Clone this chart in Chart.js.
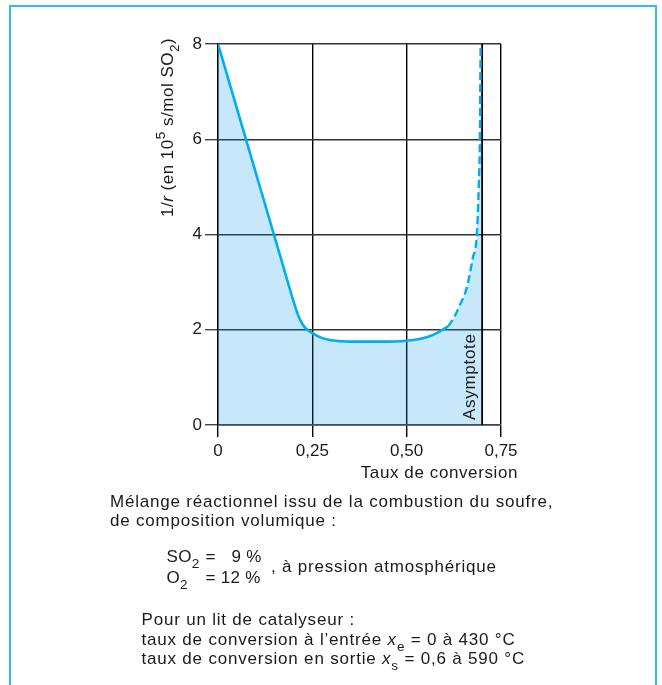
<!DOCTYPE html>
<html>
<head>
<meta charset="utf-8">
<script src="https://cdn.jsdelivr.net/npm/chart.js@4"></script>
<style>
  html, body { margin: 0; padding: 0; background: #fff; }
  canvas { display: block; }
</style>
</head>
<body>
<canvas id="chart" width="662" height="685"></canvas>
<script>
// Inverse reaction rate 1/r against conversion for one catalyst bed
const conversionSolid   = [0, 0.05, 0.10, 0.15, 0.185, 0.20, 0.215, 0.23, 0.25, 0.275, 0.30, 0.35, 0.40, 0.45, 0.50, 0.53, 0.555, 0.58, 0.61];
const inverseRateSolid  = [8.0, 6.65, 5.3, 3.95, 3.0, 2.6, 2.25, 2.05, 1.93, 1.83, 1.78, 1.75, 1.75, 1.75, 1.77, 1.80, 1.85, 1.93, 2.07];
const conversionDashed  = [0.61, 0.625, 0.64, 0.66, 0.675, 0.686, 0.691, 0.694, 0.695, 0.696];
const inverseRateDashed = [2.07, 2.25, 2.5, 2.9, 3.5, 4.0, 5.0, 6.0, 7.0, 8.0];
const asymptoteConversion = 0.7;

const xTickValues = [0, 0.25, 0.5, 0.75];
const xTickLabels = ['0', '0,25', '0,50', '0,75'];
const yTickValues = [0, 2, 4, 6, 8];
const yTickLabels = ['0', '2', '4', '6', '8'];

const FONT = '"Liberation Sans", Arial, Helvetica, sans-serif';
const TEXT = '#1a1a1a';
const CURVE = '#00aeef';

const toPoints = (xs, ys) => xs.map((x, i) => ({ x: x, y: ys[i] }));

// Area under the whole curve, closed against the asymptote at the top
const areaX = conversionSolid.concat(conversionDashed.slice(1), [asymptoteConversion]);
const areaY = inverseRateSolid.concat(inverseRateDashed.slice(1), [inverseRateDashed[inverseRateDashed.length - 1]]);

// Draws a sequence of text runs (plain, italic, subscript, superscript)
function drawRuns(ctx, x, y, runs, size, spacing) {
  let cx = x;
  for (const r of runs) {
    const small = r.sub || r.sup;
    const s = small ? size * 0.8 : size;
    ctx.font = (r.italic ? 'italic ' : '') + s + 'px ' + FONT;
    ctx.letterSpacing = spacing + 'px';
    const dy = r.sub ? size * 0.36 : (r.sup ? -size * 0.42 : 0);
    if (r.at !== undefined) cx = x + r.at;
    ctx.fillText(r.t, cx, y + dy);
    cx += ctx.measureText(r.t).width;
  }
}

const textPlugin = {
  id: 'figureText',
  afterDraw(chart) {
    const ctx = chart.ctx;
    const area = chart.chartArea;
    const xs = chart.scales.x;
    ctx.save();
    ctx.fillStyle = TEXT;
    ctx.textBaseline = 'alphabetic';
    ctx.textAlign = 'left';

    // frame
    ctx.strokeStyle = '#33bbee';
    ctx.lineWidth = 2;
    ctx.beginPath();
    ctx.moveTo(10, 690);
    ctx.lineTo(10, 6);
    ctx.lineTo(656, 6);
    ctx.lineTo(656, 690);
    ctx.stroke();

    // y axis title
    ctx.save();
    ctx.translate(area.left - 45.5, 217);
    ctx.rotate(-Math.PI / 2);
    drawRuns(ctx, 0, 0, [
      { t: '1/' }, { t: 'r', italic: true }, { t: ' (en 10' }, { t: '5', sup: true },
      { t: ' s/mol SO' }, { t: '2', sub: true }, { t: ')' }
    ], 17, 0.5);
    ctx.restore();

    // x axis title
    ctx.font = '17px ' + FONT;
    ctx.letterSpacing = '0.6px';
    ctx.textAlign = 'right';
    ctx.fillText('Taux de conversion', area.right + 17, area.bottom + 52.5);
    ctx.textAlign = 'left';

    // asymptote label
    ctx.save();
    ctx.translate(xs.getPixelForValue(asymptoteConversion) - 7, area.bottom - 5);
    ctx.rotate(-Math.PI / 2);
    drawRuns(ctx, 0, 0, [{ t: 'Asymptote' }], 17, 0.7);
    ctx.restore();

    // operating conditions
    const sp = 0.8;
    drawRuns(ctx, 110, 506.5, [{ t: 'Mélange réactionnel issu de la combustion du soufre,' }], 17, sp);
    drawRuns(ctx, 110, 525.5, [{ t: 'de composition volumique :' }], 17, sp);
    drawRuns(ctx, 166.5, 561.5, [{ t: 'SO' }, { t: '2', sub: true }, { t: '=', at: 39 }, { t: '9 %', at: 65 }], 17, 0.3);
    drawRuns(ctx, 166.5, 582.5, [{ t: 'O' }, { t: '2', sub: true }, { t: '= 12 %', at: 39 }], 17, 0.3);
    drawRuns(ctx, 271, 571.5, [{ t: ', à pression atmosphérique' }], 17, sp);
    drawRuns(ctx, 141.5, 625, [{ t: 'Pour un lit de catalyseur :' }], 17, sp);
    drawRuns(ctx, 141.5, 645, [
      { t: 'taux de conversion à l’entrée ' }, { t: 'x', italic: true }, { t: 'e', sub: true }, { t: ' = 0 à 430 °C' }
    ], 17, sp);
    drawRuns(ctx, 141.5, 663.5, [
      { t: 'taux de conversion en sortie ' }, { t: 'x', italic: true }, { t: 's', sub: true }, { t: ' = 0,6 à 590 °C' }
    ], 17, sp);

    ctx.restore();
  }
};

new Chart(document.getElementById('chart'), {
  type: 'line',
  data: {
    datasets: [
      {
        label: 'aire',
        data: toPoints(areaX, areaY),
        borderWidth: 0,
        pointRadius: 0,
        fill: 'origin',
        backgroundColor: 'rgba(0,150,230,0.22)',
        cubicInterpolationMode: 'monotone',
        order: 4
      },
      {
        label: 'asymptote',
        data: [{ x: asymptoteConversion, y: 0 }, { x: asymptoteConversion, y: 8 }],
        borderColor: '#000',
        borderWidth: 1.8,
        pointRadius: 0,
        fill: false,
        order: 3
      },
      {
        label: '1/r',
        data: toPoints(conversionSolid, inverseRateSolid),
        borderColor: CURVE,
        borderWidth: 2.6,
        pointRadius: 0,
        fill: false,
        cubicInterpolationMode: 'monotone',
        order: 1
      },
      {
        label: '1/r (extrapolé)',
        data: toPoints(conversionDashed, inverseRateDashed),
        borderColor: CURVE,
        borderWidth: 2.4,
        borderDash: [8, 4],
        pointRadius: 0,
        fill: false,
        cubicInterpolationMode: 'monotone',
        order: 1
      }
    ]
  },
  options: {
    responsive: false,
    animation: false,
    devicePixelRatio: 1,
    layout: { padding: { left: 0, right: 161, top: 44, bottom: 208 } },
    plugins: { legend: { display: false }, tooltip: { enabled: false } },
    scales: {
      x: {
        type: 'linear',
        min: 0,
        max: 0.75,
        afterBuildTicks: s => { s.ticks = xTickValues.map(v => ({ value: v })); },
        afterFit: s => { s.height = 52; },
        ticks: {
          callback: v => xTickLabels[xTickValues.indexOf(v)],
          font: { family: FONT, size: 17 },
          color: TEXT,
          padding: 4,
          maxRotation: 0,
          autoSkip: false
        },
        grid: { color: '#000', lineWidth: 1.4, tickLength: 12, tickColor: '#000' },
        border: { color: '#444', width: 1.4 }
      },
      y: {
        min: 0,
        max: 8,
        afterBuildTicks: s => { s.ticks = yTickValues.map(v => ({ value: v })); },
        afterFit: s => { s.width = 218; },
        ticks: {
          callback: v => yTickLabels[yTickValues.indexOf(v)],
          font: { family: FONT, size: 17 },
          color: TEXT,
          padding: 3
        },
        grid: { color: '#333', lineWidth: 1.4, tickLength: 13, tickColor: '#444' },
        border: { color: '#000', width: 1.4 }
      }
    }
  },
  plugins: [textPlugin]
});
</script>
</body>
</html>
